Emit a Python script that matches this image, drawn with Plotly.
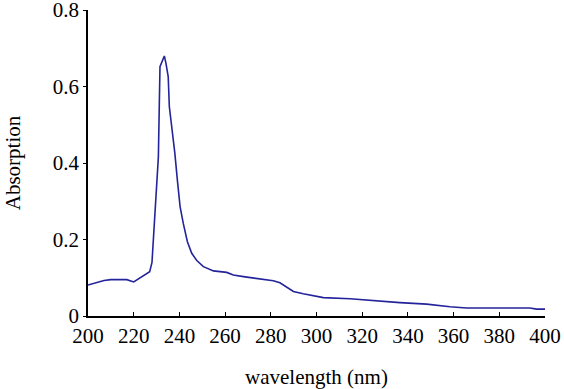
import plotly.graph_objects as go

wavelength = [200, 203, 207, 210, 214, 217, 220, 222, 225, 227, 228, 228.9, 229.8, 230.8, 231.5,
              232.7, 233.4, 234.1, 235.1, 235.6, 236.8, 238, 239.2, 240.3, 241.7, 243.5, 245.4,
              247.6, 250.5, 254.9, 260.7, 263.6, 268, 272.4, 276, 281.1, 284, 287, 289.9, 294.2,
              303, 314.7, 326.4, 336.5, 348.2, 358.4, 365.7, 380, 393.4, 396.3, 400]
absorption = [0.081, 0.087, 0.093, 0.095, 0.096, 0.095, 0.089, 0.097, 0.110, 0.116, 0.140, 0.233, 0.33,
              0.416, 0.652, 0.668, 0.680, 0.661, 0.626, 0.547, 0.49, 0.426, 0.35, 0.286, 0.242,
              0.194, 0.164, 0.145, 0.129, 0.118, 0.114, 0.107, 0.103, 0.099, 0.096, 0.092, 0.087,
              0.076, 0.064, 0.058, 0.048, 0.045, 0.039, 0.035, 0.031, 0.024, 0.021, 0.021, 0.021,
              0.018, 0.018]

x_ticks = [200, 220, 240, 260, 280, 300, 320, 340, 360, 380, 400]
y_ticks = [0, 0.2, 0.4, 0.6, 0.8]
y_tick_labels = ["0", "0.2", "0.4", "0.6", "0.8"]

fig = go.Figure()
fig.add_trace(go.Scatter(x=wavelength, y=absorption, mode="lines",
                         line=dict(color="#24249a", width=1.6), showlegend=False,
                         cliponaxis=False))

font = dict(family="Liberation Serif, Times New Roman, serif", size=21, color="black")
fig.update_layout(
    width=564, height=389,
    margin=dict(l=88, r=19, t=10, b=73),
    paper_bgcolor="white", plot_bgcolor="white",
    font=font,
    xaxis=dict(range=[200, 400.001], tickvals=x_ticks, ticks="inside", ticklen=4,
               tickcolor="black", showline=True, linecolor="black", linewidth=1.5,
               showgrid=False, zeroline=False, ticklabeloverflow="allow",
               title=dict(text="wavelength (nm)", font=font, standoff=24),
               automargin=False),
    yaxis=dict(range=[0, 0.8001], tickvals=y_ticks, ticktext=y_tick_labels,
               ticks="outside", ticklen=3, tickcolor="black",
               showline=True, linecolor="black", linewidth=1.5,
               showgrid=False, zeroline=False, ticklabeloverflow="allow",
               title=dict(text="Absorption", font=font, standoff=26),
               automargin=False),
)

fig.write_html("out.html", config={"displayModeBar": False},
               post_script="document.body.style.margin='0';")
